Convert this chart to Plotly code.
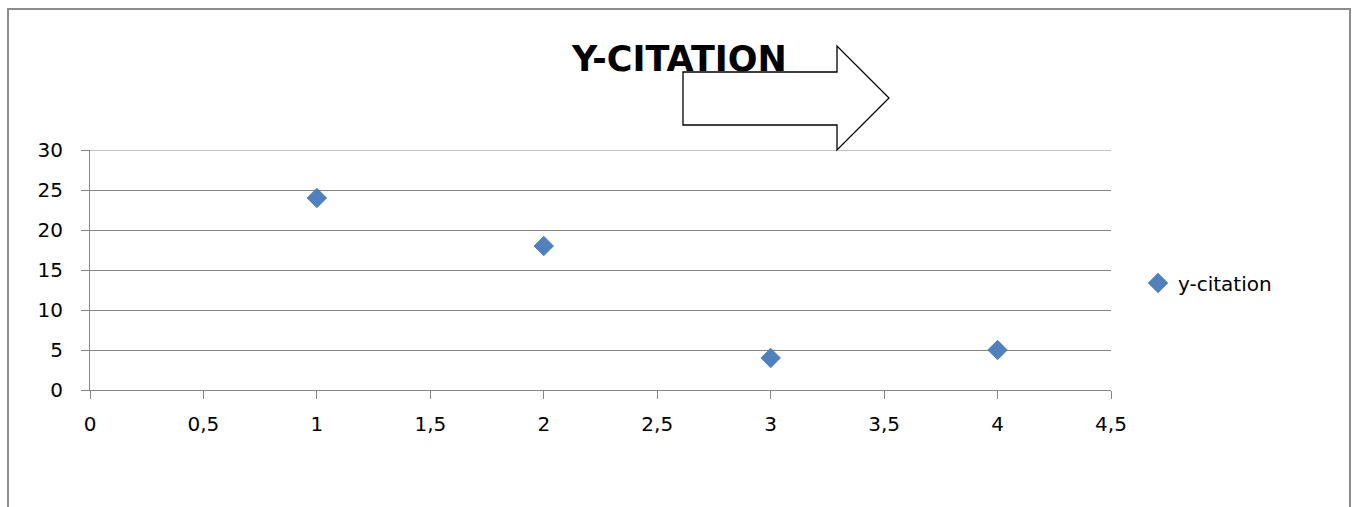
import plotly.graph_objects as go

# y-citation series
x_values = [1, 2, 3, 4]
y_values = [24, 18, 4, 5]
series_name = "y-citation"
chart_title = "Y-CITATION"

x_ticks = [0, 0.5, 1, 1.5, 2, 2.5, 3, 3.5, 4, 4.5]
y_ticks = [0, 5, 10, 15, 20, 25, 30]
y_max = 30

W, H = 1354, 507
L, R, T, B = 90, 1111, 150, 390  # plot area in pixels
GRID = "#878787"
FONT = "DejaVu Sans"


def px(xp):
    return (xp - L) / (R - L)


def py(yp):
    return (B - yp) / (B - T)


fig = go.Figure()
fig.add_trace(go.Scatter(
    x=x_values, y=y_values, mode="markers", name=series_name,
    marker=dict(symbol="diamond", size=15, color="#4F81BD",
                line=dict(color="#4677B4", width=0.8)),
))

# outer chart frame
frame = dict(type="rect", xref="paper", yref="paper",
             x0=px(8), x1=px(1350), y0=py(530), y1=py(9),
             line=dict(color="#8C8C8C", width=2), fillcolor="rgba(0,0,0,0)",
             layer="below")

# gridline along the top of the value range
top_grid = dict(type="line", xref="paper", yref="y", x0=0, x1=1, y0=y_max, y1=y_max,
                line=dict(color=GRID, width=1.2), layer="below")

# block arrow next to the title
pts = [(683, 72), (837, 72), (837, 46), (889, 98), (837, 150), (837, 125), (683, 125)]
path = "M " + " L ".join(f"{px(a):.5f},{py(b):.5f}" for a, b in pts) + " Z"
arrow = dict(type="path", xref="paper", yref="paper", path=path,
             line=dict(color="black", width=1.3), fillcolor="white", layer="above")

fig.update_layout(
    width=W, height=H,
    margin=dict(l=L, r=W - R, t=T, b=H - B, pad=0),
    paper_bgcolor="white", plot_bgcolor="white",
    separators=", ",
    font=dict(family=FONT, size=20, color="black"),
    showlegend=True,
    legend=dict(x=px(1138), y=py(283), xanchor="left", yanchor="middle",
                font=dict(family=FONT, size=20, color="black"),
                bgcolor="rgba(0,0,0,0)", borderwidth=0),
    shapes=[frame, top_grid, arrow],
    annotations=[dict(
        text=f"<b>{chart_title}</b>", xref="paper", yref="paper",
        x=px(679), y=py(59), xanchor="center", yanchor="middle",
        showarrow=False, font=dict(family=FONT, size=35, color="black"),
    )],
)

fig.update_xaxes(
    range=[0, 4.5], tickvals=x_ticks, showgrid=False, zeroline=False,
    showline=True, linecolor=GRID, linewidth=1.2,
    ticks="outside", ticklen=8, tickwidth=1.2, tickcolor=GRID,
    ticklabelstandoff=8, tickfont=dict(family=FONT, size=20, color="black"),
)
fig.update_yaxes(
    range=[0, y_max], tickvals=y_ticks, showgrid=True, gridcolor=GRID, gridwidth=1.2,
    zeroline=False, showline=True, linecolor=GRID, linewidth=1.2,
    ticks="outside", ticklen=8, tickwidth=1.2, tickcolor=GRID,
    ticklabelstandoff=14, tickfont=dict(family=FONT, size=20, color="black"),
)

fig.write_html("out.html")
